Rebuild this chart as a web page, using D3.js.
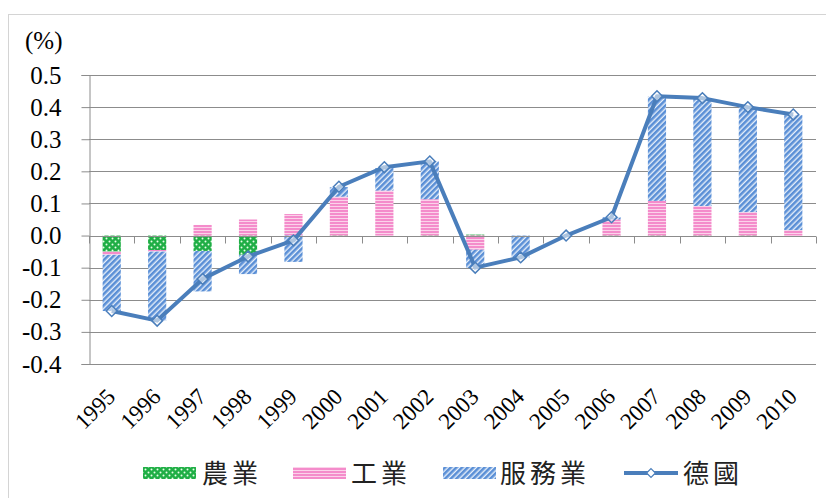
<!DOCTYPE html>
<html>
<head>
<meta charset="utf-8">
<script src="https://cdn.jsdelivr.net/npm/d3@7/dist/d3.min.js"></script>
<style>
  body { margin: 0; background: #fff; }
  svg { display: block; }
</style>
</head>
<body>
<svg width="826" height="498"></svg>
<script>
const years = ['1995','1996','1997','1998','1999','2000','2001','2002','2003','2004','2005','2006','2007','2008','2009','2010'];
// contributions by sector (percentage points)
const agri     = [-0.05, -0.045, -0.048, -0.06, 0, -0.003, 0, -0.002, 0.003, 0, 0, -0.002, -0.002, -0.002, -0.002, 0];
const industry = [-0.01, -0.005, 0.033, 0.05, 0.067, 0.121, 0.14, 0.113, -0.044, 0, 0, 0.05, 0.108, 0.092, 0.073, 0.017];
const services = [-0.175, -0.215, -0.126, -0.06, -0.082, 0.03, 0.07, 0.118, -0.057, -0.068, 0, 0.007, 0.325, 0.335, 0.327, 0.358];
const germany  = [-0.235, -0.265, -0.135, -0.065, -0.015, 0.152, 0.213, 0.231, -0.10, -0.068, 0.0, 0.057, 0.434, 0.428, 0.40, 0.377];
const yTicks = [-0.4, -0.3, -0.2, -0.1, 0, 0.1, 0.2, 0.3, 0.4, 0.5];
const seriesNames = ['農業', '工業', '服務業'];
const lineName = '德國';

const SERIF = "'Liberation Serif', 'Times New Roman', 'DejaVu Serif', serif";
const CJK = "'Noto Sans CJK TC', 'Noto Sans CJK SC', sans-serif";

const svg = d3.select('svg');
const width = +svg.attr('width');
const height = +svg.attr('height');

// outer frame
svg.append('rect')
  .attr('x', 8.5).attr('y', 14.5)
  .attr('width', width).attr('height', height)
  .attr('fill', 'none').attr('stroke', '#d4d4d4');

// patterns
const defs = svg.append('defs');
const pg = defs.append('pattern').attr('id', 'pGreen')
  .attr('patternUnits', 'userSpaceOnUse').attr('width', 6).attr('height', 6);
pg.append('rect').attr('width', 6).attr('height', 6).attr('fill', '#1fae45');
pg.append('circle').attr('cx', 1.5).attr('cy', 1.5).attr('r', 1).attr('fill', '#e8ffe8');
pg.append('circle').attr('cx', 4.5).attr('cy', 4.5).attr('r', 1).attr('fill', '#e8ffe8');

const pp = defs.append('pattern').attr('id', 'pPink')
  .attr('patternUnits', 'userSpaceOnUse').attr('width', 4).attr('height', 3);
pp.append('rect').attr('width', 4).attr('height', 3).attr('fill', '#f48ccb');
pp.append('rect').attr('y', 2).attr('width', 4).attr('height', 1).attr('fill', '#fbd3ea');

const pb = defs.append('pattern').attr('id', 'pBlue')
  .attr('patternUnits', 'userSpaceOnUse').attr('width', 4).attr('height', 4)
  .attr('patternTransform', 'rotate(45)');
pb.append('rect').attr('width', 4).attr('height', 4).attr('fill', '#5a8fd6');
pb.append('rect').attr('x', 2.6).attr('width', 1.4).attr('height', 4).attr('fill', '#e6effa');

const fills = ['url(#pGreen)', 'url(#pPink)', 'url(#pBlue)'];

const x = d3.scaleBand().domain(years).range([89, 816]).padding(0);
const y = d3.scaleLinear().domain([-0.4, 0.5]).range([364, 75]);

// gridlines
svg.append('g')
  .selectAll('line').data(yTicks.filter(t => t !== 0)).join('line')
  .attr('x1', 89).attr('x2', 816)
  .attr('y1', d => Math.round(y(d)) + 0.5).attr('y2', d => Math.round(y(d)) + 0.5)
  .attr('stroke', '#8c8c8c').attr('stroke-width', 1);

// y axis
const yAxis = svg.append('g')
  .attr('transform', 'translate(89.5,0)')
  .call(d3.axisLeft(y).tickValues(yTicks).tickFormat(d3.format('.1f')).tickSize(8).tickPadding(20));
yAxis.attr('font-family', SERIF).attr('font-size', 25);
yAxis.select('.domain').attr('stroke', '#8c8c8c');
yAxis.selectAll('.tick line').attr('stroke', '#8c8c8c');
yAxis.selectAll('.tick text')
  .style('font-family', SERIF)
  .style('font-size', '25px').attr('fill', '#000')
  .text(d => d3.format('.1f')(d).replace('−', '-'));

svg.append('text')
  .style('font-family', SERIF)
  .attr('x', 25).attr('y', 49)
  .style('font-size', '25px').text('(%)');

// stacked bars
const rows = years.map((yr, i) => ({ year: yr, a: agri[i], b: industry[i], c: services[i] }));
const stack = d3.stack().keys(['a', 'b', 'c']).offset(d3.stackOffsetDiverging);
const stacked = stack(rows);
const barW = x.bandwidth() * 0.4;

svg.append('g').selectAll('g').data(stacked).join('g')
  .attr('fill', (d, i) => fills[i])
  .selectAll('rect').data(d => d).join('rect')
  .attr('x', d => x(d.data.year) + x.bandwidth() / 2 - barW / 2)
  .attr('width', barW)
  .attr('y', d => y(Math.max(d[0], d[1])))
  .attr('height', d => Math.abs(y(d[0]) - y(d[1])));

// zero axis with category ticks
const xAxis = svg.append('g')
  .attr('transform', `translate(0,${Math.round(y(0)) + 0.5})`);
xAxis.append('line')
  .attr('x1', 89).attr('x2', 816).attr('stroke', '#8c8c8c');
xAxis.selectAll('.tk').data(years.concat(['end'])).join('line')
  .attr('class', 'tk')
  .attr('x1', (d, i) => Math.round(89 + i * x.step()) + 0.5)
  .attr('x2', (d, i) => Math.round(89 + i * x.step()) + 0.5)
  .attr('y1', 0).attr('y2', 7)
  .attr('stroke', '#8c8c8c');

// category labels
svg.append('g').selectAll('text').data(years).join('text')
  .style('font-family', SERIF)
  .attr('transform', d => `translate(${x(d) + x.bandwidth() / 2 + 5},398) rotate(-45)`)
  .attr('text-anchor', 'end')
  .style('font-size', '23px').attr('fill', '#000')
  .text(d => d);

// line
const lineColor = '#4a7ebb';
const line = d3.line()
  .x((d, i) => x(years[i]) + x.bandwidth() / 2)
  .y(d => y(d));
svg.append('path').datum(germany)
  .attr('d', line)
  .attr('fill', 'none').attr('stroke', lineColor)
  .attr('stroke-width', 4).attr('stroke-linejoin', 'round');

const diamond = d3.symbol().type(d3.symbolDiamond2).size(75);
svg.append('g').selectAll('path').data(germany).join('path')
  .attr('transform', (d, i) => `translate(${x(years[i]) + x.bandwidth() / 2},${y(d)})`)
  .attr('d', diamond)
  .attr('fill', '#fff').attr('fill-opacity', 0.55)
  .attr('stroke', lineColor).attr('stroke-width', 1.5);

// legend
const legend = svg.append('g');
const legendItems = [
  { name: seriesNames[0], fill: fills[0], x: 143, tx: 202 },
  { name: seriesNames[1], fill: fills[1], x: 293, tx: 351 },
  { name: seriesNames[2], fill: fills[2], x: 443, tx: 500 }
];
legendItems.forEach(it => {
  legend.append('rect')
    .attr('x', it.x).attr('y', 467).attr('width', 53).attr('height', 12)
    .attr('fill', it.fill);
  legend.append('text')
    .style('font-family', CJK)
    .attr('x', it.tx).attr('y', 483)
    .style('font-size', '26px').style('letter-spacing', '4px').attr('fill', '#222')
    .text(it.name);
});
legend.append('line')
  .attr('x1', 624).attr('x2', 678).attr('y1', 473).attr('y2', 473)
  .attr('stroke', lineColor).attr('stroke-width', 4);
legend.append('path')
  .attr('transform', 'translate(651,473)')
  .attr('d', d3.symbol().type(d3.symbolDiamond2).size(50))
  .attr('fill', '#fff').attr('stroke', lineColor).attr('stroke-width', 1.2);
legend.append('text')
  .style('font-family', CJK)
  .attr('x', 683).attr('y', 483)
  .style('font-size', '26px').style('letter-spacing', '4px').attr('fill', '#222')
  .text(lineName);
</script>
</body>
</html>
